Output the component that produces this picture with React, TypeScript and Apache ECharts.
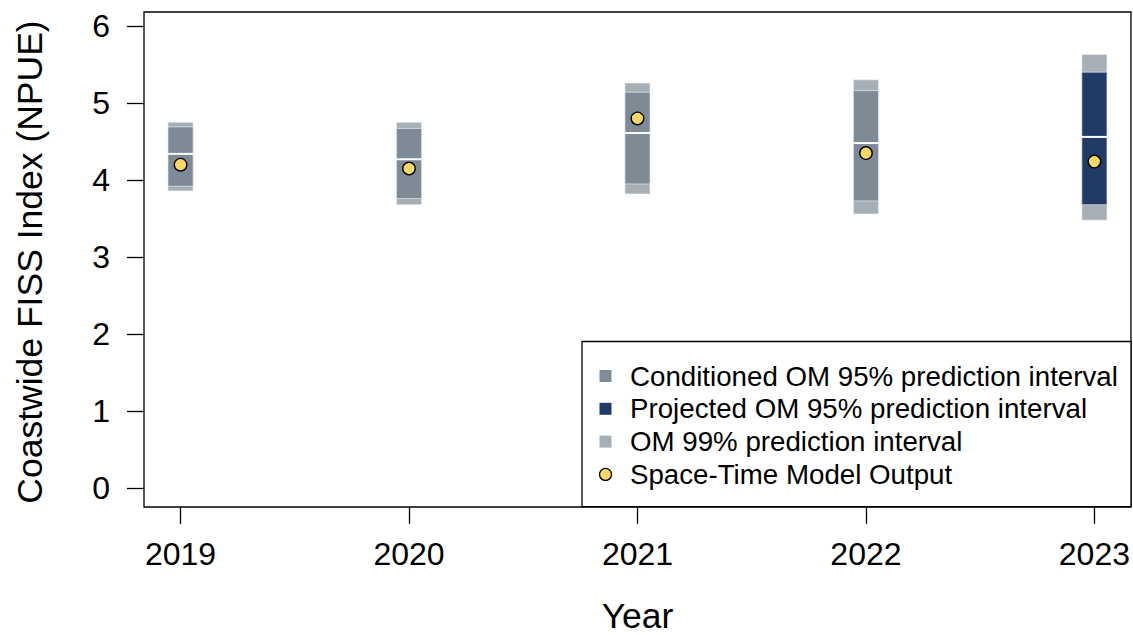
import { useEffect, useRef } from "react";
import * as echarts from "echarts";

// Survey years and the Coastwide FISS index intervals for each year
const years = [2019, 2020, 2021, 2022, 2023];
const lower99 = [3.86, 3.68, 3.82, 3.56, 3.48];
const upper99 = [4.75, 4.75, 5.26, 5.3, 5.63];
const lower95 = [3.92, 3.76, 3.95, 3.73, 3.68];
const upper95 = [4.69, 4.67, 5.14, 5.16, 5.4];
const median = [4.34, 4.27, 4.61, 4.48, 4.56];
const spaceTime = [4.2, 4.15, 4.8, 4.35, 4.24];
const projected = [false, false, false, false, true];
const yTicks = [0, 1, 2, 3, 4, 5, 6];

const legendNames = [
  "Conditioned OM 95% prediction interval",
  "Projected OM 95% prediction interval",
  "OM 99% prediction interval",
  "Space-Time Model Output",
];

const COL_COND = "#7e8b96";
const COL_PROJ = "#213b67";
const COL_99 = "#a6afb6";
const COL_POINT = "#fed865";
const FONT = "'Liberation Sans', Arial, sans-serif";
const HALF = 0.055; // half width of each interval box, in years

export default function App() {
  const ref = useRef<HTMLDivElement>(null);

  useEffect(() => {
    const chart = echarts.init(ref.current!, null, { renderer: "svg" });

    const data99 = years.map((y, i) => [y, lower99[i], upper99[i]]);
    const cond95 = years
      .map((y, i) => [y, lower95[i], upper95[i], median[i]])
      .filter((_, i) => !projected[i]);
    const proj95 = years
      .map((y, i) => [y, lower95[i], upper95[i], median[i]])
      .filter((_, i) => projected[i]);
    const points = years.map((y, i) => [y, spaceTime[i]]);

    const boxRect = (api: any, color: string) => {
      const x = api.value(0);
      const a = api.coord([x - HALF, api.value(1)]);
      const b = api.coord([x + HALF, api.value(2)]);
      return {
        type: "rect",
        shape: { x: a[0], y: b[1], width: b[0] - a[0], height: a[1] - b[1] },
        style: { fill: color, stroke: "rgba(240,243,245,0.8)", lineWidth: 0.8 },
      };
    };

    const box95 = (color: string) => (_p: any, api: any) => {
      const x = api.value(0);
      const m1 = api.coord([x - HALF, api.value(3)]);
      const m2 = api.coord([x + HALF, api.value(3)]);
      return {
        type: "group",
        children: [
          boxRect(api, color),
          {
            type: "line",
            shape: { x1: m1[0], y1: m1[1], x2: m2[0], y2: m2[1] },
            style: { stroke: "#ffffff", lineWidth: 2 },
          },
        ],
      };
    };

    const legendTop = 376;
    const legendStep = 32.8;
    const legendMarkers: any[] = [
      { type: "rect", shape: { x: 599.5, y: legendTop - 6, width: 12, height: 12 }, style: { fill: COL_COND } },
      { type: "rect", shape: { x: 599.5, y: legendTop + legendStep - 6, width: 12, height: 12 }, style: { fill: COL_PROJ } },
      { type: "rect", shape: { x: 599.5, y: legendTop + 2 * legendStep - 6, width: 12, height: 12 }, style: { fill: COL_99 } },
      {
        type: "circle",
        shape: { cx: 605.5, cy: legendTop + 3 * legendStep, r: 6 },
        style: { fill: COL_POINT, stroke: "#000", lineWidth: 1.3 },
      },
    ];
    const legendTexts = legendNames.map((name, i) => ({
      type: "text",
      x: 630,
      y: legendTop + i * legendStep,
      style: {
        text: name,
        font: `27.7px ${FONT}`,
        fill: "#000",
        textAlign: "left",
        textVerticalAlign: "middle",
      },
    }));

    chart.setOption({
      animation: false,
      backgroundColor: "#ffffff",
      grid: {
        left: 144,
        top: 12,
        right: 2,
        bottom: 128,
        show: true,
        borderColor: "#000",
        borderWidth: 1.3,
        backgroundColor: "transparent",
      },
      xAxis: {
        type: "value",
        min: 2018.84,
        max: 2023.16,
        splitLine: { show: false },
        axisLine: { show: false, onZero: false },
        axisTick: {
          show: true,
          length: 17,
          lineStyle: { color: "#000", width: 1.3 },
          customValues: years,
        },
        axisLabel: {
          customValues: years,
          formatter: (v: number) => String(v),
          margin: 31,
          fontSize: 32,
          color: "#000",
          fontFamily: FONT,
        },
      },
      yAxis: {
        type: "value",
        min: -0.24,
        max: 6.18,
        splitLine: { show: false },
        axisLine: { show: false, onZero: false },
        axisTick: {
          show: true,
          length: 17,
          lineStyle: { color: "#000", width: 1.3 },
          customValues: yTicks,
        },
        axisLabel: {
          customValues: yTicks,
          formatter: (v: number) => String(v),
          margin: 34,
          fontSize: 32,
          color: "#000",
          fontFamily: FONT,
        },
      },
      series: [
        {
          name: legendNames[2],
          type: "custom",
          renderItem: (_p: any, api: any) => boxRect(api, COL_99),
          encode: { x: 0, y: [1, 2] },
          data: data99,
          z: 2,
        },
        {
          name: legendNames[0],
          type: "custom",
          renderItem: box95(COL_COND),
          encode: { x: 0, y: [1, 2] },
          data: cond95,
          z: 3,
        },
        {
          name: legendNames[1],
          type: "custom",
          renderItem: box95(COL_PROJ),
          encode: { x: 0, y: [1, 2] },
          data: proj95,
          z: 3,
        },
        {
          name: legendNames[3],
          type: "scatter",
          data: points,
          symbol: "circle",
          symbolSize: 12.5,
          itemStyle: { color: COL_POINT, borderColor: "#000", borderWidth: 1.4, opacity: 1 },
          z: 5,
        },
      ],
      graphic: [
        {
          type: "text",
          x: 30,
          y: 262,
          rotation: Math.PI / 2,
          style: {
            text: "Coastwide FISS Index (NPUE)",
            font: `35.5px ${FONT}`,
            fill: "#000",
            textAlign: "center",
            textVerticalAlign: "middle",
          },
        },
        {
          type: "text",
          x: 637.5,
          y: 615.5,
          style: {
            text: "Year",
            font: `35.5px ${FONT}`,
            fill: "#000",
            textAlign: "center",
            textVerticalAlign: "middle",
          },
        },
        {
          type: "rect",
          shape: { x: 582, y: 341.5, width: 549, height: 165.2 },
          style: { fill: "#fff", stroke: "#000", lineWidth: 1.3 },
          z: 10,
        },
        ...legendMarkers.map((m) => ({ ...m, z: 11 })),
        ...legendTexts.map((t) => ({ ...t, z: 11 })),
      ],
    });

    return () => chart.dispose();
  }, []);

  return (
    <div
      ref={ref}
      style={{ position: "absolute", left: 0, top: 0, width: 1133, height: 635, background: "#fff" }}
    />
  );
}
